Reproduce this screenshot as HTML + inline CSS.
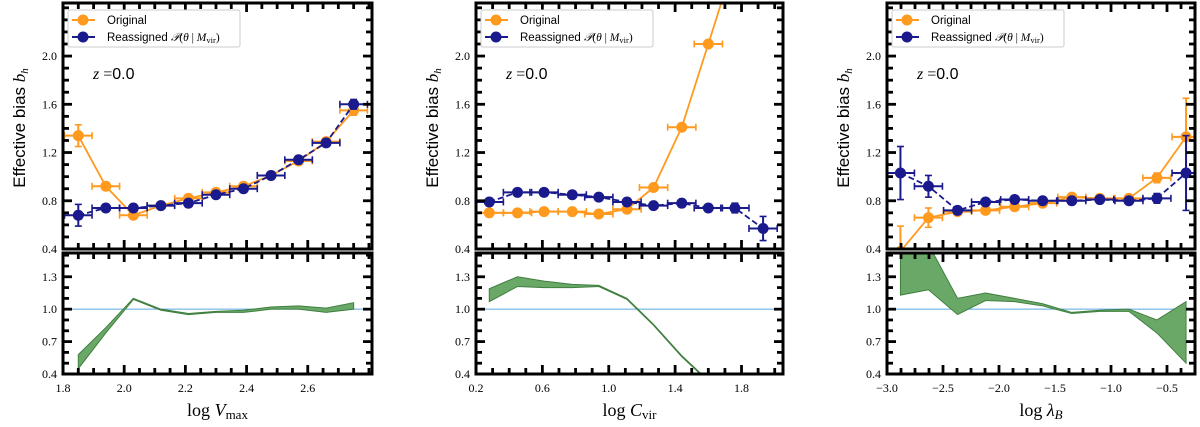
<!DOCTYPE html>
<html><head><meta charset="utf-8"><style>
body{margin:0;background:#fff;width:1200px;height:422px;overflow:hidden}
svg text{font-family:"Liberation Serif",serif}
</style></head><body>
<svg id="fig" width="1200" height="422" viewBox="0 0 1200 422" xmlns="http://www.w3.org/2000/svg"></svg>
<script>
// Panel 1: log Vmax
const x1 = [1.85,1.94,2.03,2.12,2.21,2.30,2.39,2.48,2.57,2.66,2.75];
const orig1 = [1.34,0.92,0.68,0.76,0.82,0.87,0.92,1.01,1.13,1.29,1.55];
const origErr1 = [0.09,0.03,0.03,0.02,0.02,0.02,0.02,0.02,0.02,0.03,0.04];
const reas1 = [0.68,0.74,0.74,0.76,0.78,0.85,0.90,1.01,1.14,1.28,1.60];
const reasErr1 = [0.09,0.03,0.02,0.02,0.02,0.02,0.02,0.02,0.02,0.03,0.04];
const bandLo1 = [0.45,0.78,1.09,0.99,0.95,0.97,0.97,1.00,1.00,0.97,1.00];
const bandHi1 = [0.58,0.83,1.10,1.00,0.96,0.98,0.99,1.02,1.03,1.01,1.06];
const xTicks1 = [1.8,2.0,2.2,2.4,2.6];
// Panel 2: log Cvir
const x2 = [0.28,0.45,0.61,0.78,0.94,1.11,1.27,1.44,1.60,1.76,1.93];
const orig2 = [0.70,0.70,0.71,0.71,0.69,0.73,0.91,1.41,2.10,2.80,3.40];
const origErr2 = [0.02,0.02,0.02,0.02,0.02,0.02,0.02,0.02,0.02,0.03,0.05];
const reas2 = [0.79,0.87,0.87,0.85,0.83,0.79,0.76,0.78,0.74,0.74,0.57];
const reasErr2 = [0.03,0.02,0.02,0.02,0.02,0.02,0.02,0.02,0.02,0.04,0.10];
const bandLo2 = [1.07,1.21,1.20,1.20,1.21,1.09,0.85,0.56,0.33,0.2,0.1];
const bandHi2 = [1.19,1.30,1.26,1.23,1.22,1.10,0.86,0.57,0.34,0.21,0.11];
const xTicks2 = [0.2,0.6,1.0,1.4,1.8];
// Panel 3: log lambda_B
const x3 = [-2.88,-2.63,-2.37,-2.12,-1.86,-1.61,-1.35,-1.10,-0.84,-0.59,-0.33];
const orig3 = [0.38,0.66,0.71,0.72,0.75,0.78,0.83,0.82,0.82,0.99,1.33];
const origErr3 = [0.21,0.08,0.03,0.02,0.02,0.02,0.02,0.02,0.02,0.04,0.32];
const reas3 = [1.03,0.92,0.72,0.79,0.81,0.80,0.80,0.81,0.80,0.82,1.03];
const reasErr3 = [0.22,0.09,0.03,0.02,0.02,0.02,0.02,0.02,0.02,0.04,0.31];
const bandLo3 = [1.13,1.18,0.95,1.08,1.07,1.03,0.96,0.98,0.98,0.78,0.50];
const bandHi3 = [1.60,1.60,1.10,1.15,1.10,1.05,0.97,0.99,1.00,0.90,1.07];
const xTicks3 = [-3.0,-2.5,-2.0,-1.5,-1.0,-0.5];
const yTicksTop = [0.4,0.8,1.2,1.6,2.0];
const yTicksBot = [0.4,0.7,1.0,1.3];

const NS="http://www.w3.org/2000/svg";
const svg=document.getElementById('fig');
function mk(tag,attrs,parent){const e=document.createElementNS(NS,tag);for(const k in attrs)e.setAttribute(k,attrs[k]);(parent||svg).appendChild(e);return e;}
const ORANGE="#ff9a1f", BLUE="#1a1a8c";

function panel(id,L,R,xmin,xmax,xs,orig,oe,reas,re,lo,hi,xt,xlab,xfmt){
  const T0=3,B0=249,T1=253,B1=374,ymin=0.4,ymax=2.44,rmin=0.4,rmax=1.52;
  const g=mk('g',{});
  
  
  const X=v=>L+(v-xmin)/(xmax-xmin)*(R-L);
  const Y=v=>B0-(v-ymin)/(ymax-ymin)*(B0-T0);
  const Yr=v=>B1-(v-rmin)/(rmax-rmin)*(B1-T1);
  const cid='clip'+id, cid2='clipr'+id;
  const d=mk('defs',{},g);
  const c=mk('clipPath',{id:cid},d);mk('rect',{x:L,y:T0,width:R-L,height:B0-T0},c);
  const c2=mk('clipPath',{id:cid2},d);mk('rect',{x:L,y:T1,width:R-L,height:B1-T1},c2);
  const hw=(xs[1]-xs[0])/2;
  function series(vals,errs,col,dash,name){
    const sg=mk('g',{'clip-path':'url(#'+cid+')'},g);
    
    
    mk('polyline',{points:xs.map((x,i)=>X(x)+','+Y(vals[i])).join(' '),fill:'none',stroke:col,'stroke-width':1.8,'stroke-dasharray':dash},sg);
    xs.forEach((x,i)=>{
      const px=X(x),py=Y(vals[i]);
      mk('line',{x1:X(x-hw),x2:X(x+hw),y1:py,y2:py,stroke:col,'stroke-width':2},sg);
      mk('line',{x1:X(x-hw),x2:X(x-hw),y1:py-3.5,y2:py+3.5,stroke:col,'stroke-width':1.6},sg);
      mk('line',{x1:X(x+hw),x2:X(x+hw),y1:py-3.5,y2:py+3.5,stroke:col,'stroke-width':1.6},sg);
      mk('line',{x1:px,x2:px,y1:Y(vals[i]-errs[i]),y2:Y(vals[i]+errs[i]),stroke:col,'stroke-width':2},sg);
      mk('line',{x1:px-3.5,x2:px+3.5,y1:Y(vals[i]-errs[i]),y2:Y(vals[i]-errs[i]),stroke:col,'stroke-width':1.6},sg);
      mk('line',{x1:px-3.5,x2:px+3.5,y1:Y(vals[i]+errs[i]),y2:Y(vals[i]+errs[i]),stroke:col,'stroke-width':1.6},sg);
      const m=mk('circle',{cx:px,cy:py,r:5.5,fill:col},sg);
      
      
    });
  }
  series(orig,oe,ORANGE,'none','original');
  series(reas,re,BLUE,'6,3','reassigned');
  const rg=mk('g',{'clip-path':'url(#'+cid2+')'},g);
  mk('line',{x1:L,x2:R,y1:Yr(1),y2:Yr(1),stroke:'#5aa7e0','stroke-width':1},rg);
  const pts=xs.map((x,i)=>X(x)+','+Yr(hi[i])).concat(xs.slice().reverse().map((x,j)=>X(x)+','+Yr(lo[xs.length-1-j])));
  const band=mk('polygon',{points:pts.join(' '),fill:'#6aa868',stroke:'#3f7f3f','stroke-width':1},rg);
  
  
  [[T0,B0],[T1,B1]].forEach(([t,b],k)=>{
    mk('rect',{x:L,y:t,width:R-L,height:b-t,fill:'none',stroke:'#000','stroke-width':3},g);
    const yt=k?yTicksBot:yTicksTop, Yf=k?Yr:Y;
    for(let v=(k?rmin:ymin);v<=(k?rmax:ymax)+1e-6;v+=0.1){
      const py=Yf(v); if(py<t+2||py>b-2)continue;
      const maj=yt.some(q=>Math.abs(q-v)<1e-6);
      const len=maj?9:6;
      mk('line',{x1:L,x2:L+len,y1:py,y2:py,stroke:'#000','stroke-width':2.8},g);
      mk('line',{x1:R-len,x2:R,y1:py,y2:py,stroke:'#000','stroke-width':2.8},g);
    }
    yt.forEach(v=>{const tx=mk('text',{x:L-6,y:Yf(v)+4,'text-anchor':'end','font-size':12},g);tx.textContent=v.toFixed(1);});
    const xstep=(xt[1]-xt[0])/4;
    for(let v=xt[0];v<=xmax+1e-6;v+=xstep){
      const px=X(v); if(px<L+2||px>R-2)continue;
      const maj=xt.some(q=>Math.abs(q-v)<1e-6);const len=maj?9:6;
      mk('line',{x1:px,x2:px,y1:b,y2:b-len,stroke:'#000','stroke-width':2.8},g);
      mk('line',{x1:px,x2:px,y1:t,y2:t+len,stroke:'#000','stroke-width':2.8},g);
    }
  });
  xt.forEach(v=>{const tx=mk('text',{x:X(v),y:392,'text-anchor':'middle','font-size':12},g);tx.textContent=xfmt(v);});
  const xl=mk('text',{x:(L+R)/2,y:416,'text-anchor':'middle','font-size':18},g);xl.innerHTML=xlab;
  
  const yl=mk('text',{x:0,y:0,'text-anchor':'middle','font-size':17,transform:`translate(${L-38},128) rotate(-90)`,style:'font-family:"Liberation Sans",sans-serif'},g);
  yl.innerHTML='Effective bias <tspan font-style="italic" style="font-family:\'Liberation Serif\',serif">b</tspan><tspan font-style="italic" font-size="11" dy="3" style="font-family:\'Liberation Serif\',serif">h</tspan>';
  
  const z=mk('text',{x:L+30,y:79,'font-size':16},g);z.innerHTML='<tspan font-style="italic">z</tspan> =<tspan style="font-family:\'Liberation Sans\',sans-serif">0.0</tspan>';
  
  const lg=mk('g',{},g);
  
  mk('rect',{x:L+5,y:10,width:172,height:37,fill:'#fff',stroke:'#ccc','stroke-width':1,rx:2},lg);
  [[ORANGE,'Original',20],[BLUE,'Reassigned',37]].forEach(([col,lab,yy])=>{
    const e=mk('g',{},lg);
    
    mk('line',{x1:L+9,x2:L+32,y1:yy,y2:yy,stroke:col,'stroke-width':2},e);
    mk('line',{x1:L+20,x2:L+20,y1:yy-5,y2:yy+5,stroke:col,'stroke-width':2},e);
    mk('circle',{cx:L+20,cy:yy,r:5.5,fill:col},e);
    const t=mk('text',{x:L+44,y:yy+4,'font-size':11.5,style:'font-family:"Liberation Sans",sans-serif'},e);
    t.innerHTML=lab==='Original'?'Original':'Reassigned <tspan style="font-family:\'Liberation Serif\',serif;font-style:italic">𝒫</tspan><tspan style="font-family:\'Liberation Serif\',serif">(<tspan font-style="italic">θ</tspan> | <tspan font-style="italic">M</tspan><tspan font-size="8.5" dy="2">vir</tspan><tspan dy="-2">)</tspan></tspan>';
  });
}
panel('vmax',63,372,1.8,2.81,x1,orig1,origErr1,reas1,reasErr1,bandLo1,bandHi1,xTicks1,'log <tspan font-style="italic">V</tspan><tspan font-size="13" dy="3">max</tspan>',v=>v.toFixed(1));
panel('cvir',476,783,0.2,2.05,x2,orig2,origErr2,reas2,reasErr2,bandLo2,bandHi2,xTicks2,'log <tspan font-style="italic">C</tspan><tspan font-size="13" dy="3">vir</tspan>',v=>v.toFixed(1));
panel('lambda',887,1195,-3.0,-0.25,x3,orig3,origErr3,reas3,reasErr3,bandLo3,bandHi3,xTicks3,'log <tspan font-style="italic">λ</tspan><tspan font-size="13" dy="3" font-style="italic">B</tspan>',v=>(v<0?'−':'')+Math.abs(v).toFixed(1));
</script>
</body></html>
